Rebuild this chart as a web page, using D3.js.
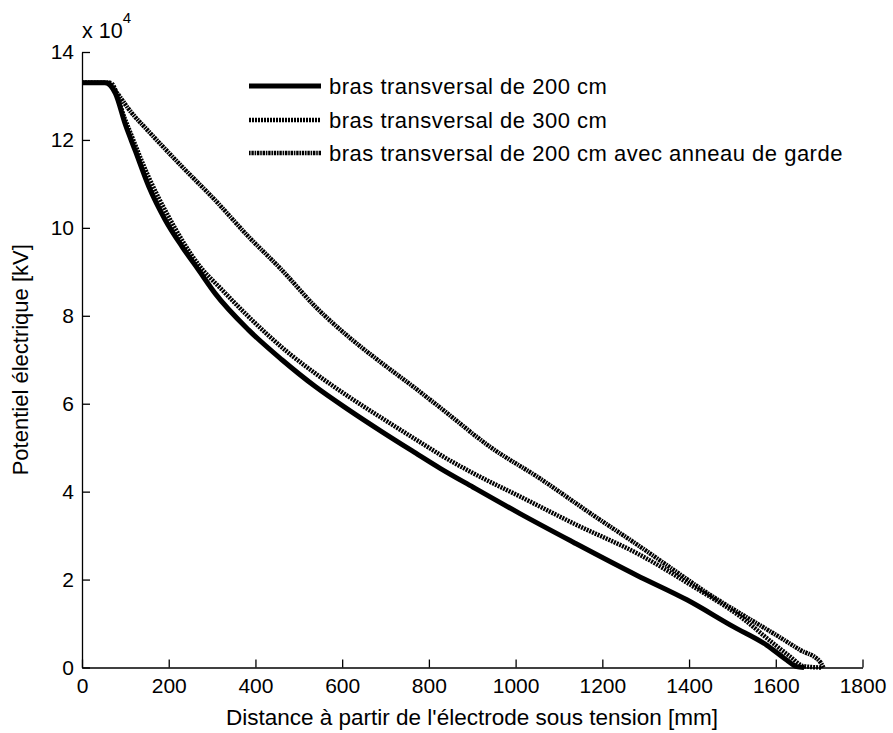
<!DOCTYPE html>
<html lang="fr">
<head>
    <meta charset="UTF-8">
    <title>Potentiel électrique</title>
    <script src="https://d3js.org/d3.v7.min.js"></script>
    <style>
        body { margin: 0; background: #fff; }
        text { font-family: "Liberation Sans", Arial, sans-serif; fill: #000; }
        .axis path, .axis line { stroke: #000; stroke-width: 1.3px; }
        .axis text { font-size: 21px; }
    </style>
</head>
<body>
<div id="chart"></div>
<script>
    // Data (distance in mm, potential in units of 1e4)
    const solidX = [0, 53, 77, 100, 123, 154, 192, 231, 269, 307, 384, 461, 538, 615, 692, 769, 826, 902, 1010, 1133, 1279, 1395, 1502, 1579, 1625, 1648, 1665];
    const solidY = [13.3, 13.3, 13.06, 12.35, 11.75, 10.94, 10.18, 9.57, 9.04, 8.51, 7.68, 7.0, 6.39, 5.86, 5.36, 4.88, 4.53, 4.1, 3.5, 2.85, 2.1, 1.54, 0.93, 0.51, 0.17, 0.02, 0];

    const midX = [0, 65, 100, 154, 200, 269, 323, 384, 477, 538, 615, 692, 800, 826, 902, 1010, 1133, 1287, 1410, 1518, 1594, 1633, 1664, 1705];
    const midY = [13.3, 13.3, 12.45, 11.15, 10.25, 9.16, 8.59, 7.98, 7.15, 6.69, 6.16, 5.67, 5.0, 4.84, 4.42, 3.89, 3.28, 2.56, 1.84, 1.16, 0.55, 0.25, 0.03, 0];

    const upX = [0, 60, 69, 115, 154, 231, 307, 384, 461, 538, 615, 692, 769, 830, 941, 1056, 1172, 1287, 1379, 1441, 1518, 1594, 1656, 1702, 1710];
    const upY = [13.3, 13.3, 13.21, 12.61, 12.19, 11.39, 10.63, 9.8, 9.04, 8.21, 7.52, 6.92, 6.35, 5.88, 5.02, 4.3, 3.51, 2.75, 2.12, 1.7, 1.23, 0.78, 0.4, 0.13, 0];

    const xTicks = [0, 200, 400, 600, 800, 1000, 1200, 1400, 1600, 1800];
    const yTicks = [0, 2, 4, 6, 8, 10, 12, 14];

    const legendLabels = [
        "bras transversal de 200 cm",
        "bras transversal de 300 cm",
        "bras transversal de 200 cm avec anneau de garde"
    ];

    const width = 893, height = 733;
    const svg = d3.select("#chart").append("svg")
        .attr("width", width)
        .attr("height", height);

    const x = d3.scaleLinear().domain([0, 1800]).range([82, 862.5]);
    const y = d3.scaleLinear().domain([0, 14]).range([667.5, 52]);

    // axes (ticks pointing inward, no box)
    const xAxis = svg.append("g")
        .attr("class", "axis")
        .attr("transform", `translate(0,${y(0)})`)
        .call(d3.axisBottom(x).tickValues(xTicks).tickFormat(d3.format("d"))
            .tickSizeInner(-8).tickSizeOuter(0).tickPadding(8));
    xAxis.selectAll("text").attr("dy", "0.85em");

    svg.append("g")
        .attr("class", "axis")
        .attr("transform", `translate(${x(0)},0)`)
        .call(d3.axisLeft(y).tickValues(yTicks).tickFormat(d3.format("d"))
            .tickSizeInner(-8).tickSizeOuter(0).tickPadding(8));

    // exponent label
    const expo = svg.append("text")
        .attr("x", 82)
        .attr("y", 38)
        .style("font-size", "21.5px");
    expo.append("tspan").text("x 10");
    expo.append("tspan").attr("dy", -15).style("font-size", "15px").text("4");

    // axis titles
    svg.append("text")
        .attr("x", 472)
        .attr("y", 725)
        .attr("text-anchor", "middle")
        .style("font-size", "22.5px")
        .text("Distance à partir de l'électrode sous tension [mm]");

    svg.append("text")
        .attr("transform", `translate(28,${y(7)}) rotate(-90)`)
        .attr("text-anchor", "middle")
        .style("font-size", "22px")
        .text("Potentiel électrique [kV]");

    const line = d3.line()
        .x(d => x(d[0]))
        .y(d => y(d[1]))
        .curve(d3.curveMonotoneX);

    const series = [
        { xs: solidX, ys: solidY, width: 5, dash: null },
        { xs: midX, ys: midY, width: 4.5, dash: "2,1" },
        { xs: upX, ys: upY, width: 4.5, dash: "1.6,0.8,2.4,0.8" }
    ];

    series.forEach(s => {
        const pts = s.xs.map((v, i) => [v, s.ys[i]]);
        svg.append("path")
            .datum(pts)
            .attr("fill", "none")
            .attr("stroke", "#000")
            .attr("stroke-width", s.width)
            .attr("stroke-linejoin", "round")
            .attr("stroke-dasharray", s.dash)
            .attr("d", line);
    });

    // legend
    const legendRows = [86, 120, 153];
    legendLabels.forEach((label, i) => {
        const s = series[i];
        svg.append("line")
            .attr("x1", 249).attr("x2", 321)
            .attr("y1", legendRows[i]).attr("y2", legendRows[i])
            .attr("stroke", "#000")
            .attr("stroke-width", s.width)
            .attr("stroke-dasharray", s.dash);
        svg.append("text")
            .attr("x", 329)
            .attr("y", legendRows[i] + 7.5)
            .style("font-size", "22px")
            .style("letter-spacing", "0.5px")
            .text(label);
    });
</script>
</body>
</html>
